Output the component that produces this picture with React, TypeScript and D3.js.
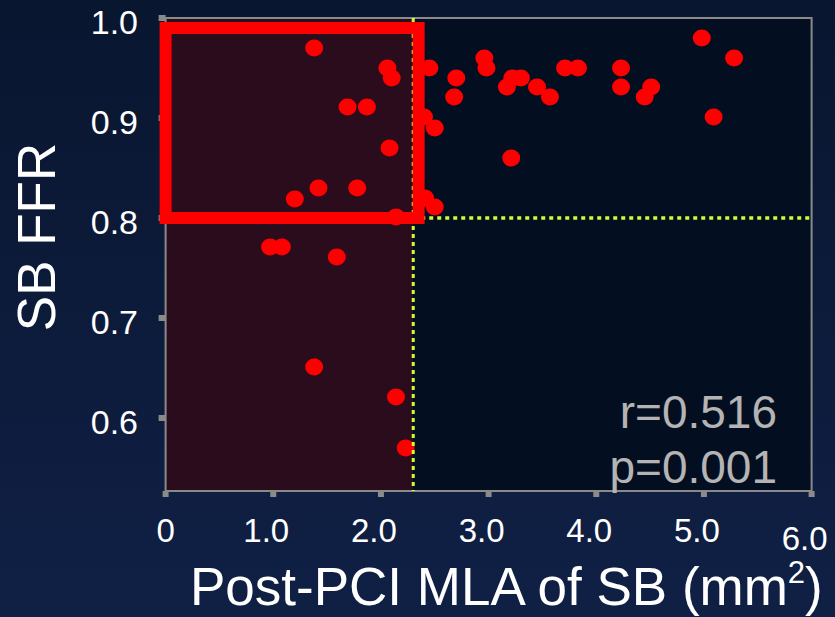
import * as d3 from "d3";

// SB FFR vs post-PCI MLA of the side branch
const mla = [
  1.38, 2.06, 2.1, 1.69, 1.87, 2.08, 2.4, 2.5, 2.45, 2.7, 2.68, 1.42, 1.2, 1.78,
  2.14, 2.41, 2.5, 0.97, 1.08, 1.59, 1.38, 2.14, 2.23, 4.98, 5.28, 2.96, 2.98,
  3.22, 3.3, 3.17, 3.45, 3.57, 3.71, 3.83, 4.23, 4.23, 4.51, 4.45, 5.09, 3.21,
];
const ffr = [
  0.97, 0.95, 0.94, 0.911, 0.911, 0.87, 0.901, 0.89, 0.95, 0.94, 0.921, 0.83,
  0.819, 0.83, 0.801, 0.82, 0.811, 0.771, 0.771, 0.761, 0.651, 0.621, 0.57,
  0.98, 0.96, 0.96, 0.95, 0.94, 0.94, 0.931, 0.931, 0.921, 0.95, 0.95, 0.95,
  0.931, 0.931, 0.921, 0.901, 0.86,
];

const xTicks = [0, 1, 2, 3, 4, 5, 6];
const xTickLabels = ["0", "1.0", "2.0", "3.0", "4.0", "5.0", "6.0"];
const yTicks = [0.6, 0.7, 0.8, 0.9, 1.0];
const yTickLabels = ["0.6", "0.7", "0.8", "0.9", "1.0"];

const mlaCutoff = 2.3;
const ffrCutoff = 0.8;
const boxX = [0, 2.35];
const boxY = [0.8, 0.99];
const stats = ["r=0.516", "p=0.001"];

const W = 835;
const H = 617;
const font = "Arial, 'Liberation Sans', sans-serif";

export default function App() {
  const x = d3.scaleLinear().domain([0, 6]).range([165.6, 811.6]);
  const y = d3.scaleLinear().domain([0.6, 1.0]).range([418, 18]);
  const yMin = y.invert(491);
  const [x0, x1] = x.range();
  const yTop = y(1.0);
  const yBot = y(yMin);

  return (
    <svg
      width={W}
      height={H}
      style={{ position: "absolute", left: 0, top: 0 }}
      fontFamily={font}
    >
      <defs>
        <linearGradient id="bg" x1="0" y1="0" x2="0" y2="1">
          <stop offset="0" stopColor="#091630" />
          <stop offset="1" stopColor="#102045" />
        </linearGradient>
      </defs>
      <rect width={W} height={H} fill="url(#bg)" />

      {/* plot regions */}
      <rect x={x0} y={yTop} width={x1 - x0} height={yBot - yTop} fill="#040e21" />
      <rect
        x={x0}
        y={yTop}
        width={x(mlaCutoff) - x0}
        height={yBot - yTop}
        fill="#2b0c1c"
      />

      {/* frame */}
      <rect
        x={x0}
        y={yTop}
        width={x1 - x0}
        height={yBot - yTop}
        fill="none"
        stroke="#8a8a8a"
        strokeWidth={2}
      />

      {/* ticks */}
      {yTicks.map((t, i) => (
        <g key={"y" + i}>
          <line x1={x0 - 7} x2={x0} y1={y(t)} y2={y(t)} stroke="#8a8a8a" strokeWidth={6} />
          <text x={138} y={y(t) + 16} fill="#ffffff" fontSize={34} textAnchor="end">
            {yTickLabels[i]}
          </text>
        </g>
      ))}
      {xTicks.map((t, i) => (
        <g key={"x" + i}>
          <line x1={x(t)} x2={x(t)} y1={yBot} y2={yBot + 6} stroke="#8a8a8a" strokeWidth={6} />
          <text
            x={x(t) + (xTickLabels[i].length > 1 ? -7 : 0)}
            y={i === xTicks.length - 1 ? 550 : 542}
            fill="#ffffff"
            fontSize={33}
            textAnchor="middle"
          >
            {xTickLabels[i]}
          </text>
        </g>
      ))}

      {/* points */}
      {mla.map((m, i) => (
        <ellipse key={i} cx={x(m)} cy={y(ffr[i])} rx={9} ry={8.5} fill="#ff0000" />
      ))}

      {/* cutoff lines */}
      <line
        x1={x(mlaCutoff)}
        x2={x(mlaCutoff)}
        y1={yTop}
        y2={yBot}
        stroke="#ccff33"
        strokeWidth={3}
        strokeDasharray="4 4"
      />
      <line
        x1={x(mlaCutoff)}
        x2={x1 - 2}
        y1={y(ffrCutoff)}
        y2={y(ffrCutoff)}
        stroke="#ccff33"
        strokeWidth={3.5}
        strokeDasharray="4 4"
      />

      {/* highlight box */}
      <rect
        x={x(boxX[0])}
        y={y(boxY[1])}
        width={x(boxX[1]) - x(boxX[0])}
        height={y(boxY[0]) - y(boxY[1])}
        fill="none"
        stroke="#ff0000"
        strokeWidth={12}
      />

      {/* stats */}
      {stats.map((s, i) => (
        <text
          key={s}
          x={777}
          y={428 + i * 55}
          fill="#b4b4b4"
          fontSize={46}
          textAnchor="end"
        >
          {s}
        </text>
      ))}

      {/* axis titles */}
      <text
        transform="translate(55,237) rotate(-90)"
        fill="#ffffff"
        fontSize={53}
        textAnchor="middle"
      >
        SB FFR
      </text>
      <text x={190} y={605} fill="#ffffff" fontSize={53}>
        Post-PCI MLA of SB (mm
        <tspan fontSize={31} dy={-22}>
          2
        </tspan>
        <tspan dy={22}>)</tspan>
      </text>
    </svg>
  );
}
